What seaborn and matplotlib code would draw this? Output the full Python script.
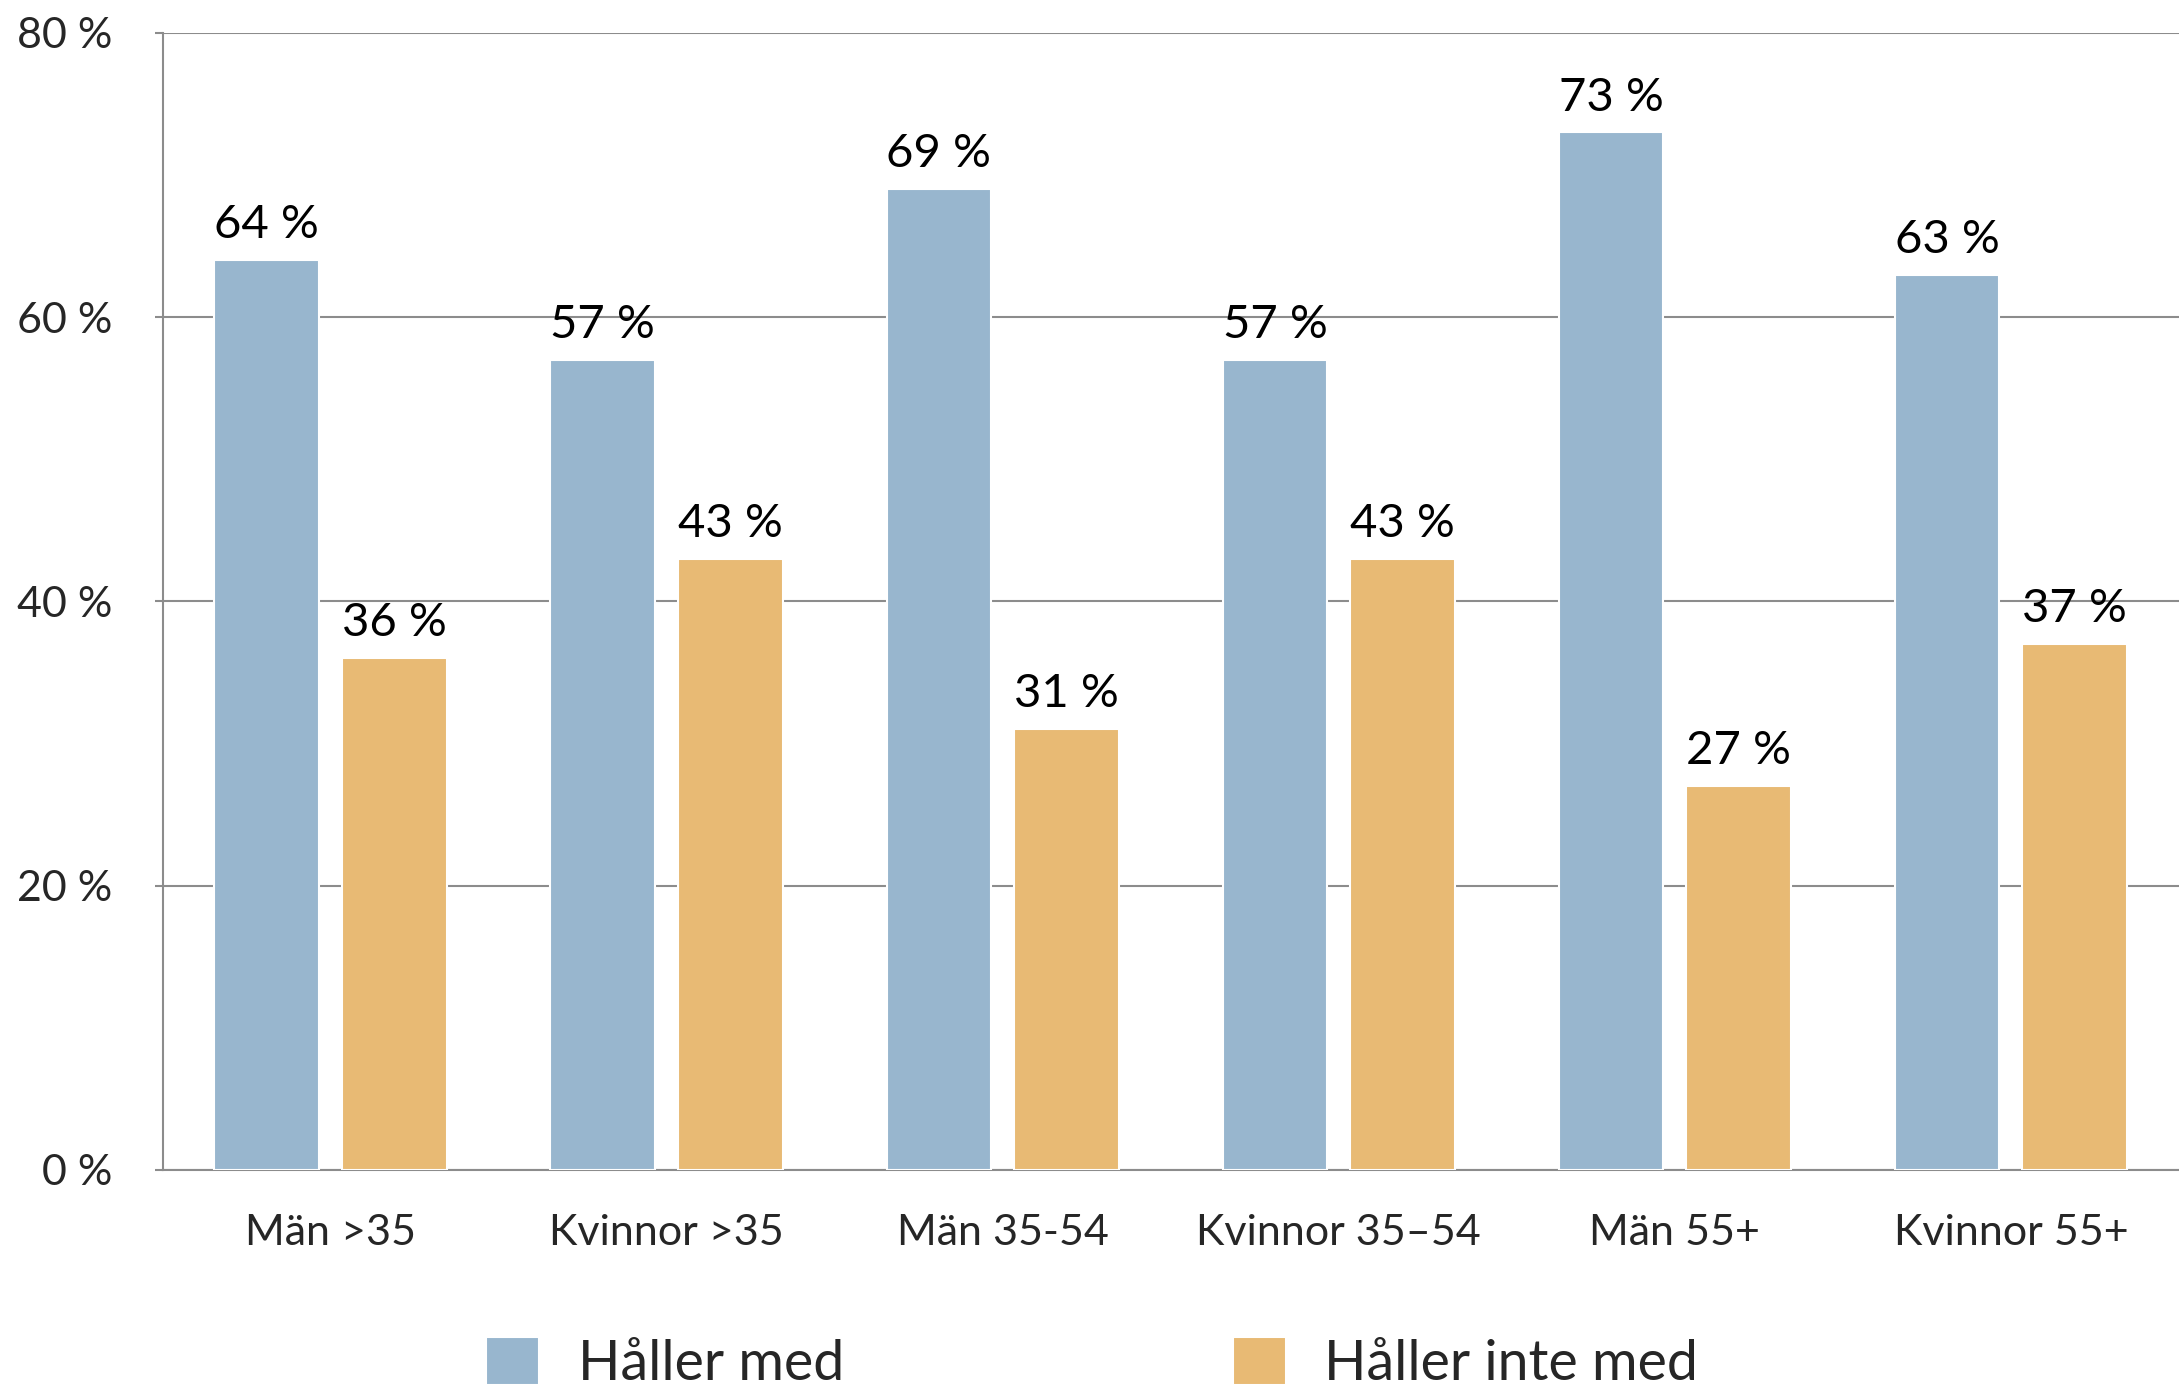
import matplotlib
matplotlib.use('Agg')
import matplotlib.pyplot as plt
import seaborn as sns
import pandas as pd

grupper = ['Män >35', 'Kvinnor >35', 'Män 35-54', 'Kvinnor 35–54', 'Män 55+', 'Kvinnor 55+']
haller_med = [64, 57, 69, 57, 73, 63]
haller_inte_med = [36, 43, 31, 43, 27, 37]
serier = ['Håller med', 'Håller inte med']
y_ticks = [0, 20, 40, 60, 80]

farger = ['#98B6CE', '#E8BA74']
grid_farg = '#8c8c8c'

df = pd.DataFrame({
    'grupp': grupper * 2,
    'andel': haller_med + haller_inte_med,
    'svar': [serier[0]] * len(grupper) + [serier[1]] * len(grupper),
})

sns.set_style('white')
plt.rcParams['font.family'] = ['Lato', 'DejaVu Sans']

fig = plt.figure(figsize=(21.79, 13.91), dpi=100)
ax = fig.add_axes([0.0746, 0.159, 0.9254, 0.8173])

sns.barplot(data=df, x='grupp', y='andel', hue='svar', order=grupper,
            hue_order=serier, palette=farger, saturation=1, errorbar=None,
            width=0.76, gap=0.18, edgecolor='white', linewidth=1.5, ax=ax)

for cont in ax.containers:
    ax.bar_label(cont, fmt='{:.0f} %', padding=10, fontsize=34, color='black')

ax.set_ylim(0, 80)
ax.set_xlim(-0.5, 5.5)
ax.set_yticks(y_ticks)
ax.set_yticklabels([f'{v} %' for v in y_ticks], fontsize=31)
ax.set_xticks(range(len(grupper)))
ax.set_xticklabels(grupper, fontsize=31)
ax.set_xticks([i - 0.5 for i in range(len(grupper))], minor=True)
ax.tick_params(axis='x', which='major', length=0, pad=32)
ax.tick_params(axis='x', which='minor', length=6, width=1.5, color=grid_farg, direction='out')
ax.tick_params(axis='y', length=6, width=1.5, color=grid_farg, direction='out', pad=30, left=True)
ax.set_xlabel('')
ax.set_ylabel('')

ax.set_axisbelow(True)
ax.yaxis.grid(True, color=grid_farg, linewidth=1.5)
for s in ['top', 'right']:
    ax.spines[s].set_visible(False)
for s in ['left', 'bottom']:
    ax.spines[s].set_color(grid_farg)
    ax.spines[s].set_linewidth(1.5)
    ax.spines[s].set_zorder(0.5)

handles, labels = ax.get_legend_handles_labels()
ax.get_legend().remove()
fig.legend(handles, labels, loc='center left', bbox_to_anchor=(0.223, 0.02),
           ncol=2, frameon=False, fontsize=40, handlelength=0.95, handleheight=0.95,
           handletextpad=0.7, columnspacing=7.0, borderpad=0, borderaxespad=0)

fig.savefig('out.png', dpi=100)
